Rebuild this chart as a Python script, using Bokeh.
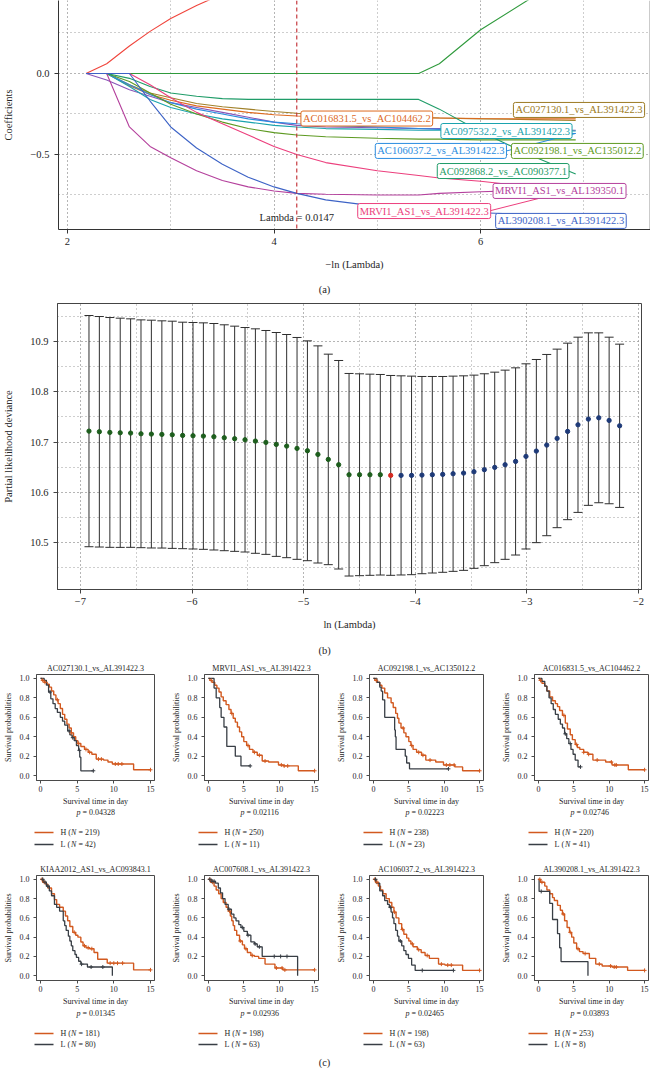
import math
from bokeh.plotting import figure
from bokeh.layouts import column, row
from bokeh.models import (Label, Whisker, TeeHead, Span, SingleIntervalTicker, FixedTicker,
                          CustomJSTickFormatter, Range1d, ColumnDataSource)
from bokeh.core.properties import value
from bokeh.embed import file_html
from bokeh.resources import INLINE

FONT = "Liberation Serif"
INK = "#262626"
PAGE_W = 650
NBSP = "\u00a0"

# ---------------- (a) LASSO coefficient paths ----------------
neg_log_lambda = [2.18, 2.38, 2.6, 2.8, 3.0, 3.25, 3.5, 3.75, 4.0, 4.22, 4.5, 5.0, 5.4, 5.6, 6.0, 6.5, 6.92]
coef_red_up = [0.0, 0.06, 0.17, 0.26, 0.34, 0.42, 0.49, 0.55, 0.60, 0.64, 0.68, 0.74, 0.78, 0.80, 0.84, 0.88, 0.91]
coef_green_up = [0, 0, 0, 0, 0, 0, 0, 0, 0, 0, 0, 0, 0, 0.06, 0.27, 0.47, 0.60]
coef_purple = [0, -0.04, -0.10, -0.14, -0.18, -0.21, -0.24, -0.27, -0.30, -0.32, -0.33, -0.335, -0.34, -0.34, -0.345, -0.35, -0.35]
coef_AC027130 = [0, 0, -0.07, -0.12, -0.15, -0.185, -0.205, -0.22, -0.235, -0.245, -0.255, -0.265, -0.27, -0.275, -0.28, -0.285, -0.29]
coef_AC016831 = [0, 0, -0.075, -0.13, -0.165, -0.20, -0.22, -0.24, -0.255, -0.262, -0.268, -0.272, -0.275, -0.275, -0.278, -0.28, -0.28]
coef_AC097532 = [0, 0, -0.08, -0.16, -0.21, -0.25, -0.28, -0.30, -0.32, -0.33, -0.34, -0.345, -0.35, -0.35, -0.35, -0.355, -0.355]
coef_AC106037 = [0, 0, -0.07, -0.13, -0.18, -0.22, -0.25, -0.28, -0.30, -0.31, -0.32, -0.33, -0.34, -0.345, -0.355, -0.365, -0.37]
coef_AC092198 = [0, 0, -0.05, -0.12, -0.19, -0.25, -0.30, -0.34, -0.365, -0.38, -0.39, -0.40, -0.405, -0.405, -0.41, -0.41, -0.41]
coef_AC092868 = [0, 0, -0.03, -0.08, -0.12, -0.14, -0.155, -0.16, -0.16, -0.16, -0.16, -0.16, -0.16, -0.22, -0.36, -0.51, -0.62]
coef_MRVI1_AL139350 = [0, 0, -0.33, -0.45, -0.52, -0.60, -0.66, -0.70, -0.725, -0.74, -0.745, -0.75, -0.75, -0.74, -0.73, -0.72, -0.71]
coef_MRVI1_AL391422 = [0, 0, 0, -0.07, -0.15, -0.24, -0.31, -0.38, -0.45, -0.50, -0.55, -0.60, -0.63, -0.645, -0.665, -0.70, -0.72]
coef_AL390208 = [0, 0, 0, -0.17, -0.33, -0.46, -0.56, -0.64, -0.70, -0.74, -0.78, -0.82, -0.84, -0.85, -0.86, -0.87, -0.88]

path_series = [coef_red_up, coef_green_up, coef_purple, coef_AC027130, coef_AC016831, coef_AC097532,
               coef_AC106037, coef_AC092198, coef_AC092868, coef_MRVI1_AL139350, coef_MRVI1_AL391422, coef_AL390208]
path_colors = ["#F0453C", "#2F9A3C", "#8A54B8", "#A0812A", "#DD6A1F", "#1AA3AE",
               "#2A8CE0", "#5E9A22", "#1F9C68", "#B4409C", "#EC3F7D", "#3D63C6"]

label_names = ["AC027130.1_vs_AL391422.3", "AC016831.5_vs_AC104462.2", "AC097532.2_vs_AL391422.3",
               "AC106037.2_vs_AL391422.3", "AC092198.1_vs_AC135012.2", "AC092868.2_vs_AC090377.1",
               "MRVI1_AS1_vs_AL139350.1", "MRVI1_AS1_vs_AL391422.3", "AL390208.1_vs_AL391422.3"]
label_colors = ["#9C7A22", "#DD6A1F", "#1AA3AE", "#2A8CE0", "#5E9A22", "#1F9C68", "#B4409C", "#EC3F7D", "#3D63C6"]
label_pos = [(6.317, -0.225), (4.26, -0.278), (5.615, -0.355), (4.98, -0.478), (6.298, -0.478),
             (5.58, -0.602), (6.12, -0.725), (4.81, -0.849), (6.145, -0.910)]

lambda_min_x = 4.22
lambda_min_text = "Lambda = 0.0147"

# ---------------- (b) cross-validation curve ----------------
cv_log_lambda = [-6.923, -6.830, -6.736, -6.643, -6.550, -6.457, -6.364, -6.270, -6.177, -6.084,
                 -5.991, -5.898, -5.804, -5.711, -5.618, -5.525, -5.432, -5.338, -5.245, -5.152,
                 -5.059, -4.966, -4.872, -4.779, -4.686, -4.593, -4.499, -4.406, -4.313, -4.220,
                 -4.127, -4.033, -3.940, -3.847, -3.754, -3.661, -3.567, -3.474, -3.381, -3.288,
                 -3.195, -3.101, -3.008, -2.915, -2.822, -2.729, -2.635, -2.542, -2.449, -2.356,
                 -2.263, -2.169]
cv_mean = [10.7217, 10.7204, 10.7191, 10.7184, 10.7178, 10.7164, 10.7158, 10.7151, 10.7144, 10.7131,
           10.7125, 10.7118, 10.7105, 10.7085, 10.7065, 10.7045, 10.7019, 10.6992, 10.6952, 10.6919,
           10.6873, 10.6826, 10.6753, 10.6654, 10.6548, 10.6349, 10.6349, 10.6349, 10.6349, 10.6336,
           10.6336, 10.6336, 10.6342, 10.6349, 10.6356, 10.6369, 10.6382, 10.6409, 10.6449, 10.6495,
           10.6548, 10.6614, 10.6714, 10.6820, 10.6939, 10.7072, 10.7211, 10.7343, 10.7456, 10.7482,
           10.7429, 10.7323]
cv_sd = [0.2300, 0.2293, 0.2286, 0.2280, 0.2273, 0.2266, 0.2266, 0.2260, 0.2260, 0.2253,
         0.2253, 0.2253, 0.2253, 0.2247, 0.2240, 0.2233, 0.2233, 0.2227, 0.2227, 0.2220,
         0.2207, 0.2187, 0.2160, 0.2094, 0.2074, 0.2015, 0.2008, 0.2001, 0.1995, 0.1988,
         0.1981, 0.1975, 0.1962, 0.1955, 0.1948, 0.1942, 0.1935, 0.1922, 0.1909, 0.1895,
         0.1882, 0.1862, 0.1842, 0.1822, 0.1803, 0.1776, 0.1756, 0.1743, 0.1716, 0.1690,
         0.1657, 0.1624]
cv_dot_group = ["g"] * 29 + ["r"] + ["b"] * 22
dot_palette = {"g": "#1D5E1D", "r": "#D42A22", "b": "#1E3A78"}

# ---------------- (c) Kaplan-Meier curves ----------------
km_titles = ["AC027130.1_vs_AL391422.3", "MRVI1_AS1_vs_AL391422.3", "AC092198.1_vs_AC135012.2",
             "AC016831.5_vs_AC104462.2", "KIAA2012_AS1_vs_AC093843.1", "AC007608.1_vs_AL391422.3",
             "AC106037.2_vs_AL391422.3", "AL390208.1_vs_AL391422.3"]
km_pvalues = ["0.04328", "0.02116", "0.02223", "0.02746", "0.01345", "0.02936", "0.02465", "0.03893"]
km_n_high = [219, 250, 238, 220, 181, 198, 198, 253]
km_n_low = [42, 11, 23, 41, 80, 63, 63, 8]
km_xticks = [0, 5, 10, 15]
km_yticks = [0.0, 0.2, 0.4, 0.6, 0.8, 1.0]

km1_h_t = [0, 0.2, 0.5, 0.9, 1.2, 1.5, 1.8, 2.1, 2.4, 2.7, 3.0, 3.3, 3.6, 3.9, 4.2, 4.5, 4.8, 5.1, 5.5, 6.0, 6.5, 7.0, 7.6, 8.6, 9.2, 9.8, 12.7, 15.0]
km1_h_s = [1.0, 0.98, 0.96, 0.94, 0.91, 0.87, 0.83, 0.78, 0.74, 0.69, 0.63, 0.58, 0.53, 0.49, 0.44, 0.40, 0.36, 0.33, 0.30, 0.27, 0.24, 0.22, 0.17, 0.16, 0.14, 0.12, 0.06, 0.06]
km1_l_t = [0, 0.5, 0.8, 1.1, 1.4, 1.7, 2.0, 2.3, 2.7, 3.0, 3.3, 3.7, 4.0, 4.3, 4.6, 4.9, 5.2, 5.35, 5.5, 7.2]
km1_l_s = [1.0, 0.98, 0.93, 0.86, 0.79, 0.74, 0.69, 0.65, 0.60, 0.56, 0.52, 0.46, 0.42, 0.39, 0.36, 0.31, 0.26, 0.19, 0.05, 0.05]
km1_h_cens = [0.3, 0.6, 2.3, 4.2, 5.2, 6.2, 6.7, 7.9, 8.3, 10.2, 10.6, 11.1, 15.0]
km1_l_cens = [1.3, 3.9, 4.4, 5.3, 7.2]

km2_h_t = [0, 0.2, 0.5, 0.9, 1.2, 1.5, 1.8, 2.1, 2.5, 2.9, 3.2, 3.5, 3.8, 4.1, 4.4, 4.7, 5.0, 5.4, 5.8, 6.3, 6.9, 7.6, 8.5, 9.9, 10.6, 12.7, 15.0]
km2_h_s = [1.0, 0.98, 0.96, 0.93, 0.90, 0.86, 0.81, 0.77, 0.73, 0.68, 0.64, 0.59, 0.55, 0.50, 0.45, 0.40, 0.35, 0.31, 0.27, 0.24, 0.21, 0.15, 0.14, 0.11, 0.10, 0.05, 0.05]
km2_l_t = [0, 0.8, 1.1, 1.6, 1.8, 2.2, 2.6, 3.8, 4.6, 5.9]
km2_l_s = [1.0, 0.9, 0.8, 0.7, 0.6, 0.5, 0.3, 0.2, 0.1, 0.1]
km2_h_cens = [0.4, 3.3, 5.6, 6.5, 7.2, 8.0, 10.3, 10.7, 11.2, 15.0]
km2_l_cens = [5.9]

km3_h_t = [0, 0.2, 0.5, 0.9, 1.2, 1.6, 2.0, 2.5, 2.8, 3.15, 3.4, 3.6, 3.9, 4.3, 4.6, 5.0, 5.3, 5.6, 6.1, 6.8, 7.4, 8.8, 9.9, 11.5, 12.6, 15.0]
km3_h_s = [1.0, 0.98, 0.96, 0.93, 0.90, 0.85, 0.80, 0.75, 0.70, 0.64, 0.59, 0.54, 0.49, 0.44, 0.40, 0.35, 0.31, 0.27, 0.24, 0.21, 0.16, 0.14, 0.11, 0.09, 0.05, 0.05]
km3_l_t = [0, 0.5, 0.9, 1.1, 1.3, 1.6, 3.0, 3.1, 3.2, 4.5, 4.7, 5.1, 10.6]
km3_l_s = [1.0, 0.96, 0.91, 0.87, 0.78, 0.60, 0.47, 0.40, 0.27, 0.20, 0.13, 0.07, 0.07]
km3_h_cens = [0.4, 4.2, 5.4, 6.4, 7.0, 8.0, 10.3, 10.8, 11.4, 15.0]
km3_l_cens = [10.6]

km4_h_t = [0, 0.2, 0.5, 0.9, 1.2, 1.6, 2.0, 2.4, 2.7, 3.0, 3.4, 3.8, 4.1, 4.5, 4.8, 5.2, 5.5, 5.85, 6.4, 7.0, 7.7, 9.5, 10.4, 12.7, 15.0]
km4_h_s = [1.0, 0.98, 0.95, 0.92, 0.87, 0.81, 0.77, 0.74, 0.71, 0.67, 0.62, 0.54, 0.48, 0.42, 0.37, 0.32, 0.29, 0.27, 0.24, 0.22, 0.16, 0.14, 0.11, 0.06, 0.06]
km4_l_t = [0, 0.5, 0.9, 1.2, 1.5, 1.8, 2.1, 2.4, 2.8, 3.1, 3.4, 3.7, 4.0, 4.3, 4.6, 4.9, 5.2, 5.6, 5.95]
km4_l_s = [1.0, 0.97, 0.92, 0.87, 0.80, 0.74, 0.68, 0.63, 0.58, 0.53, 0.49, 0.43, 0.38, 0.33, 0.27, 0.22, 0.16, 0.09, 0.09]
km4_h_cens = [0.3, 3.6, 5.4, 6.4, 7.1, 8.3, 10.3, 10.8, 11.0, 15.0]
km4_l_cens = [3.8, 4.5, 5.95]

km5_h_t = [0, 0.3, 0.7, 1.0, 1.5, 1.9, 2.2, 2.6, 3.1, 3.4, 3.7, 4.0, 4.4, 4.8, 5.1, 5.5, 5.8, 6.2, 6.7, 7.3, 7.8, 9.1, 12.7, 15.0]
km5_h_s = [1.0, 0.97, 0.95, 0.91, 0.85, 0.79, 0.74, 0.71, 0.67, 0.62, 0.57, 0.51, 0.45, 0.42, 0.40, 0.35, 0.31, 0.29, 0.28, 0.24, 0.17, 0.13, 0.06, 0.06]
km5_l_t = [0, 0.4, 0.8, 1.2, 1.5, 1.9, 2.2, 2.6, 3.1, 3.3, 3.5, 3.8, 4.0, 4.2, 4.4, 4.7, 4.9, 5.2, 5.5, 6.4, 9.8]
km5_l_s = [1.0, 0.97, 0.93, 0.88, 0.83, 0.74, 0.71, 0.67, 0.57, 0.52, 0.47, 0.41, 0.36, 0.31, 0.26, 0.22, 0.19, 0.15, 0.12, 0.09, 0.0]
km5_h_cens = [0.2, 0.5, 4.6, 6.0, 6.5, 7.0, 9.5, 10.0, 10.5, 11.2, 15.0]
km5_l_cens = [0.3, 0.6, 1.0, 5.6, 6.9, 8.5]

km6_h_t = [0, 0.3, 0.8, 1.1, 1.45, 1.8, 2.1, 2.5, 2.8, 3.1, 3.3, 3.5, 3.7, 4.0, 4.4, 4.8, 5.1, 5.5, 6.0, 6.5, 7.1, 8.0, 9.4, 10.5, 15.0]
km6_h_s = [1.0, 0.97, 0.93, 0.89, 0.85, 0.80, 0.76, 0.71, 0.67, 0.62, 0.57, 0.52, 0.47, 0.42, 0.36, 0.32, 0.28, 0.24, 0.21, 0.20, 0.18, 0.12, 0.08, 0.06, 0.06]
km6_l_t = [0, 0.5, 1.0, 1.4, 1.7, 2.0, 2.35, 2.8, 3.25, 3.6, 3.9, 4.3, 4.6, 5.0, 5.5, 6.0, 6.5, 6.9, 7.6, 12.6]
km6_l_s = [1.0, 0.98, 0.96, 0.91, 0.86, 0.80, 0.74, 0.69, 0.64, 0.60, 0.57, 0.53, 0.50, 0.46, 0.42, 0.35, 0.33, 0.30, 0.20, 0.0]
km6_h_cens = [0.2, 0.6, 3.0, 4.5, 5.3, 6.2, 9.6, 10.4, 10.8, 15.0]
km6_l_cens = [0.2, 0.5, 0.8, 2.9, 4.8, 5.6, 6.6, 7.2, 9.3, 10.2, 11.1]

km7_h_t = [0, 0.3, 0.7, 1.0, 1.35, 1.8, 2.25, 2.6, 2.9, 3.2, 3.6, 4.0, 4.3, 4.7, 5.0, 5.3, 5.6, 6.2, 6.75, 7.3, 7.9, 9.2, 10.1, 12.6, 15.0]
km7_h_s = [1.0, 0.97, 0.93, 0.89, 0.85, 0.80, 0.76, 0.71, 0.66, 0.60, 0.54, 0.48, 0.43, 0.39, 0.36, 0.33, 0.30, 0.27, 0.24, 0.21, 0.18, 0.12, 0.11, 0.055, 0.055]
km7_l_t = [0, 0.4, 0.9, 1.3, 1.6, 2.0, 2.25, 2.5, 2.7, 2.9, 3.15, 3.4, 3.6, 4.0, 4.3, 4.6, 4.95, 5.4, 5.9, 11.3]
km7_l_s = [1.0, 0.96, 0.88, 0.83, 0.78, 0.74, 0.71, 0.66, 0.60, 0.54, 0.47, 0.41, 0.36, 0.31, 0.26, 0.22, 0.18, 0.11, 0.055, 0.055]
km7_h_cens = [0.2, 0.5, 3.0, 4.1, 5.5, 6.4, 7.6, 9.6, 10.5, 11.0, 15.0]
km7_l_cens = [0.3, 2.4, 3.8, 6.9, 11.3]

km8_h_t = [0, 0.3, 0.9, 1.2, 1.6, 2.0, 2.25, 2.7, 3.1, 3.4, 3.7, 4.05, 4.4, 4.7, 5.0, 5.4, 5.8, 6.3, 7.2, 8.1, 9.0, 10.4, 12.6, 15.0]
km8_h_s = [1.0, 0.97, 0.93, 0.89, 0.85, 0.81, 0.78, 0.73, 0.68, 0.64, 0.57, 0.50, 0.45, 0.40, 0.34, 0.28, 0.25, 0.23, 0.18, 0.12, 0.10, 0.09, 0.055, 0.055]
km8_l_t = [0, 0.1, 1.6, 2.0, 2.7, 3.0, 3.2, 7.0]
km8_l_s = [1.0, 0.875, 0.75, 0.583, 0.4375, 0.29, 0.146, 0.0]
km8_h_cens = [0.2, 0.5, 3.5, 4.5, 5.6, 6.6, 8.6, 10.2, 10.7, 11.0, 15.0]
km8_l_cens = [0.4]

km_curves = [
    (km1_h_t, km1_h_s, km1_l_t, km1_l_s, km1_h_cens, km1_l_cens),
    (km2_h_t, km2_h_s, km2_l_t, km2_l_s, km2_h_cens, km2_l_cens),
    (km3_h_t, km3_h_s, km3_l_t, km3_l_s, km3_h_cens, km3_l_cens),
    (km4_h_t, km4_h_s, km4_l_t, km4_l_s, km4_h_cens, km4_l_cens),
    (km5_h_t, km5_h_s, km5_l_t, km5_l_s, km5_h_cens, km5_l_cens),
    (km6_h_t, km6_h_s, km6_l_t, km6_l_s, km6_h_cens, km6_l_cens),
    (km7_h_t, km7_h_s, km7_l_t, km7_l_s, km7_h_cens, km7_l_cens),
    (km8_h_t, km8_h_s, km8_l_t, km8_l_s, km8_h_cens, km8_l_cens),
]
COL_H = "#D2591F"
COL_L = "#383E45"

MINUS_FMT = "return tick.toFixed(%d).replace('-', '\\u2212');"


def style_axes(p, size, tick_out, color):
    for ax in (p.xaxis, p.yaxis):
        ax.axis_line_color = color
        ax.major_tick_line_color = color
        ax.major_tick_out = tick_out
        ax.major_tick_in = 0
        ax.minor_tick_line_color = None
        ax.major_label_text_font = FONT
        ax.major_label_text_font_size = size
        ax.major_label_text_color = INK
        ax.axis_label_text_font = FONT
        ax.axis_label_text_font_size = size
        ax.axis_label_text_font_style = "normal"
        ax.axis_label_text_color = INK


def dotted_grid(p):
    for g in (p.xgrid, p.ygrid):
        g.grid_line_color = "#9c9c9c"
        g.grid_line_dash = "1 3"
        g.minor_grid_line_color = "#9c9c9c"
        g.minor_grid_line_dash = "1 3"


def strip(height, page_top):
    """A text strip whose data coordinates are page pixels (y grows downward)."""
    s = figure(width=PAGE_W, height=height, x_range=Range1d(0, PAGE_W),
               y_range=Range1d(page_top + height, page_top),
               x_axis_type=None, y_axis_type=None, output_backend="svg", toolbar_location=None,
               min_border=0, min_border_left=0, min_border_right=0, min_border_top=0, min_border_bottom=0)
    s.grid.visible = False
    s.outline_line_color = None
    return s


def stext(s, xs, ys, texts, size="8px", align="left", style="normal"):
    s.text(x=xs, y=ys, text=texts, text_font=value(FONT), text_font_size=value(size),
           text_align=align, text_baseline="middle", text_color=INK, text_font_style=style)


# ================= Panel (a) =================
fa = figure(width=PAGE_W, height=275, x_range=Range1d(1.9135, 7.644), y_range=Range1d(-0.963, 0.4506),
            output_backend="svg", toolbar_location=None,
            min_border_left=54, min_border_right=0, min_border_top=0, min_border_bottom=46)
fa.outline_line_color = None
style_axes(fa, "10.5px", 4, "#333333")
fa.xaxis.ticker = SingleIntervalTicker(interval=2, num_minor_ticks=2)
fa.yaxis.ticker = SingleIntervalTicker(interval=0.5, num_minor_ticks=2)
fa.xaxis.formatter = CustomJSTickFormatter(code=MINUS_FMT % 0)
fa.yaxis.formatter = CustomJSTickFormatter(code=MINUS_FMT % 1)
fa.xaxis.major_label_standoff = 4
fa.yaxis.major_label_standoff = 5
fa.xaxis.axis_label = "\u2212ln (Lambda)"
fa.xaxis.axis_label_standoff = 11
fa.yaxis.axis_label = "Coefficients"
fa.yaxis.axis_label_standoff = 13
dotted_grid(fa)
fa.add_layout(Span(location=7.644, dimension="height", line_color="#333333", line_width=1.5))

for ser, col in zip(path_series, path_colors):
    fa.line(neg_log_lambda, ser, line_color=col, line_width=1.1)

fa.add_layout(Span(location=lambda_min_x, dimension="height", line_color="#C0282E",
                   line_dash="4 3", line_width=1.1))
fa.add_layout(Label(x=lambda_min_x, y=-0.889, text=lambda_min_text, text_font=FONT,
                    text_font_size="10.5px", text_align="center", text_baseline="middle",
                    text_color=INK))

# connectors from two labels to their path ends
fa.segment(x0=[label_pos[3][0] + 1.27, label_pos[7][0] + 1.27],
           y0=[label_pos[3][1], label_pos[7][1]],
           x1=[neg_log_lambda[-1], neg_log_lambda[-1] - 0.35],
           y1=[coef_AC106037[-1], coef_MRVI1_AL391422[-2] - 0.07],
           line_color=[label_colors[3], label_colors[7]], line_width=1)

for name, col, (lx, ly) in zip(label_names, label_colors, label_pos):
    fa.add_layout(Label(x=lx, y=ly, text=name, text_font=FONT, text_font_size="10.5px",
                        text_color=col, text_align="left", text_baseline="middle",
                        background_fill_color="white", border_line_color=col,
                        border_line_width=1, padding=2, border_radius=2))

sa = strip(23, 275)
stext(sa, [324], [289], ["(a)"], size="10.5px", align="center")

# ================= Panel (b) =================
fb = figure(width=PAGE_W, height=336, x_range=Range1d(-7.205, -1.973), y_range=Range1d(10.4066, 10.9756),
            output_backend="svg", toolbar_location=None,
            min_border_left=54, min_border_right=9, min_border_top=5, min_border_bottom=45)
fb.outline_line_color = "#444444"
style_axes(fb, "10.5px", 4, "#444444")
fb.xaxis.ticker = SingleIntervalTicker(interval=1, num_minor_ticks=2)
fb.yaxis.ticker = SingleIntervalTicker(interval=0.1, num_minor_ticks=2)
fb.xaxis.formatter = CustomJSTickFormatter(code=MINUS_FMT % 0)
fb.yaxis.formatter = CustomJSTickFormatter(code=MINUS_FMT % 1)
fb.xaxis.major_label_standoff = 4
fb.yaxis.major_label_standoff = 5
fb.xaxis.axis_label = "ln (Lambda)"
fb.xaxis.axis_label_standoff = 11
fb.yaxis.axis_label = "Partial likelihood deviance"
fb.yaxis.axis_label_standoff = 13
dotted_grid(fb)

cv_src = ColumnDataSource(dict(
    x=cv_log_lambda, y=cv_mean,
    upper=[m + s for m, s in zip(cv_mean, cv_sd)],
    lower=[m - s for m, s in zip(cv_mean, cv_sd)],
    color=[dot_palette[g] for g in cv_dot_group]))
fb.add_layout(Whisker(source=cv_src, base="x", upper="upper", lower="lower", dimension="height",
                      line_color="#2e2e2e", line_width=1,
                      upper_head=TeeHead(size=9, line_color="#2e2e2e", line_width=1),
                      lower_head=TeeHead(size=9, line_color="#2e2e2e", line_width=1)))
fb.scatter("x", "y", source=cv_src, size=4.3, fill_color="color", line_color="color")

sb = strip(22, 634)
stext(sb, [324], [650], ["(b)"], size="10.5px", align="center")


# ================= Panel (c) =================
def surv_at(ts, ss, t):
    v = ss[0]
    for a, b in zip(ts, ss):
        if a <= t:
            v = b
    return v


FRAME_W = 119
col_widths = [168, 165, 165, 152]
col_left = [35, 31, 31, 31]
col_frame_x = [35, 199, 364, 529]


def km_figure(i, c, height, top, bottom):
    width = col_widths[c]
    left = col_left[c]
    right = width - left - FRAME_W
    p = figure(width=width, height=height, title=km_titles[i],
               x_range=Range1d(-0.55, 15.55), y_range=Range1d(-0.05, 1.04),
               output_backend="svg", toolbar_location=None,
               min_border_left=left, min_border_right=right, min_border_top=top, min_border_bottom=bottom)
    p.title.text_font = FONT
    p.title.text_font_size = "8px"
    p.title.text_font_style = "normal"
    p.title.text_color = INK
    p.title.align = "center"
    p.title.standoff = 4
    p.xgrid.visible = False
    p.ygrid.visible = False
    p.outline_line_color = "#4a4a4a"
    style_axes(p, "8px", 3, "#4a4a4a")
    p.xaxis.ticker = FixedTicker(ticks=km_xticks)
    p.yaxis.ticker = FixedTicker(ticks=km_yticks)
    p.yaxis.formatter = CustomJSTickFormatter(code="return tick.toFixed(1);")
    p.xaxis.major_label_standoff = 2
    p.yaxis.major_label_standoff = 4
    p.xaxis.axis_label = "Survival time in day"
    p.xaxis.axis_label_standoff = 2
    p.yaxis.axis_label = "Survival probabilities"
    p.yaxis.axis_label_standoff = 4

    ht, hs, lt, ls, hc, lc = km_curves[i]
    p.step(ht, hs, mode="after", line_color=COL_H, line_width=1.4)
    p.step(lt, ls, mode="after", line_color=COL_L, line_width=1.3)
    p.scatter(hc, [surv_at(ht, hs, t) for t in hc], marker="cross", size=4, line_color=COL_H, line_width=1)
    p.scatter(lc, [surv_at(lt, ls, t) for t in lc], marker="cross", size=4, line_color=COL_L, line_width=1)
    return p


def km_caption(s, idx0, y_p, y_h, y_l):
    for c in range(4):
        i = idx0 + c
        fx = col_frame_x[c]
        cx = fx + FRAME_W / 2 + 1
        stext(s, [cx - 19.5], [y_p], ["p"], style="italic")
        stext(s, [cx - 13.5], [y_p], ["=" + NBSP + km_pvalues[i]])
        s.segment(x0=[fx - 1, fx - 1], y0=[y_h, y_l], x1=[fx + 18, fx + 18], y1=[y_h, y_l],
                  line_color=[COL_H, COL_L], line_width=1.5)
        for lab, n, yy in (("H", km_n_high[i], y_h), ("L", km_n_low[i], y_l)):
            stext(s, [fx + 25], [yy], [lab + NBSP + "("])
            stext(s, [fx + 35.5], [yy], ["N"], style="italic")
            stext(s, [fx + 43], [yy], ["=" + NBSP + "%d)" % n])


row1 = [km_figure(c, c, 152, 18, 28) for c in range(4)]
sc1 = strip(47, 808)
km_caption(sc1, 0, 812, 832, 844)

row2 = [km_figure(4 + c, c, 153, 20, 27) for c in range(4)]
sc2 = strip(60, 1008)
km_caption(sc2, 4, 1012.5, 1033, 1044)
stext(sc2, [324], [1062], ["(c)"], size="10.5px", align="center")

# each figure sits in its own row so that the column does not align their frames
layout = column(row(fa), row(sa), row(fb), row(sb), row(*row1), row(sc1), row(*row2), row(sc2))
open("out.html", "w").write(file_html(layout, INLINE))
